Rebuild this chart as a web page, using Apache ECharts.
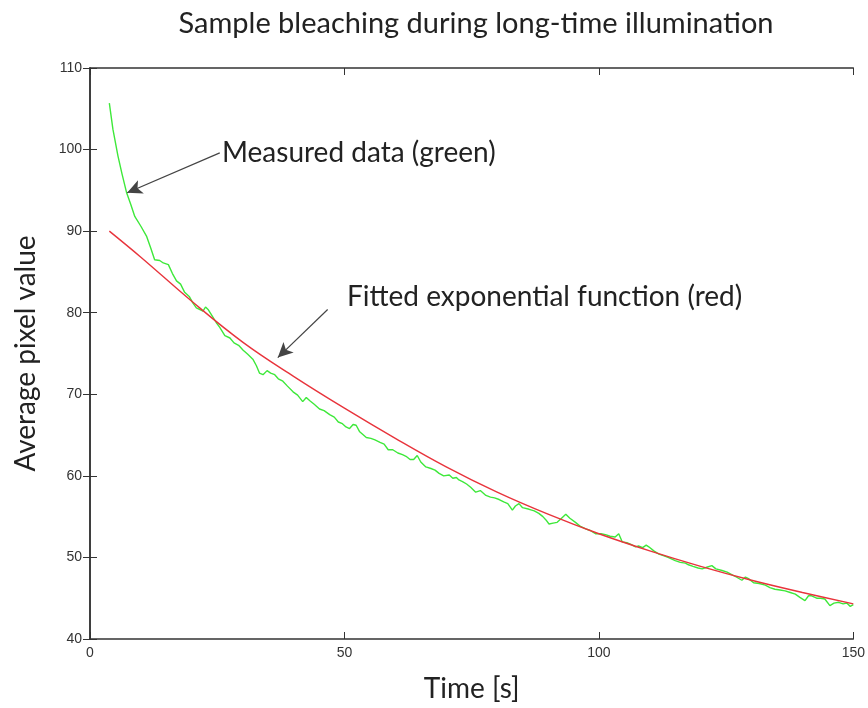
<!DOCTYPE html>
<html>
<head>
<meta charset="utf-8">
<script src="https://cdn.jsdelivr.net/npm/echarts@6/dist/echarts.min.js"></script>
<style>html,body{margin:0;padding:0;background:#fff;}#c{width:868px;height:708px;}</style>
</head>
<body>
<div id="c"></div>
<script>
const titleText = 'Sample bleaching during long-time illumination';
const xName = 'Time [s]';
const yName = 'Average pixel value';
const xTicks = [0, 50, 100, 150];
const yTicks = [40, 50, 60, 70, 80, 90, 100, 110];

const greenTime = [3.8,4.5,5.5,6.3,7.2,8.0,8.8,10.0,11.1,12.0,12.7,13.7,14.4,15.4,16.2,17.0,17.8,18.6,19.5,20.2,20.9,22.2,22.7,23.2,24.0,24.8,25.5,26.5,27.5,28.3,29.2,30.1,31.0,32.0,32.7,33.3,34.0,34.8,35.5,36.3,37.0,37.9,38.8,39.9,40.8,41.8,42.5,43.2,44.0,45.1,46.0,47.1,48.0,48.8,49.6,50.3,51.0,51.7,52.3,53.0,54.3,55.2,56.0,57.0,57.8,58.6,59.5,60.5,61.4,62.1,62.9,63.6,64.3,65.0,66.0,67.0,67.8,68.6,69.5,70.6,71.3,72.0,72.5,73.2,74.0,74.8,75.8,76.7,77.8,78.7,79.5,80.4,81.3,82.1,83.0,83.6,84.3,85.0,86.3,87.3,88.2,89.0,89.6,90.2,91.0,91.8,92.5,93.5,94.3,95.4,96.4,97.4,98.3,99.4,100.4,101.3,102.2,103.2,103.9,104.6,105.5,106.3,107.2,107.8,108.6,109.3,109.8,110.8,111.8,112.8,113.6,115.0,116.0,117.0,117.6,118.5,119.5,120.3,121.2,122.2,123.0,124.2,125.2,126.1,127.0,128.1,128.8,129.4,130.4,131.5,132.7,133.6,134.6,135.6,136.6,137.6,138.6,139.5,140.5,141.2,141.8,142.8,143.6,144.4,145.4,146.2,147.1,148.0,148.7,149.4,150.0];
const greenValue = [105.7,102.5,99.2,97.0,94.7,93.3,91.8,90.6,89.4,87.8,86.5,86.4,86.1,85.9,84.8,83.9,83.5,82.5,82.0,81.2,80.6,80.2,80.7,80.4,79.6,78.8,78.2,77.2,76.9,76.3,76.0,75.4,74.9,74.3,73.5,72.6,72.4,72.9,72.6,72.4,71.9,71.6,71.0,70.3,69.9,69.1,69.6,69.2,68.8,68.2,68.0,67.5,67.2,66.6,66.4,66.0,65.8,66.3,66.2,65.4,64.7,64.6,64.4,64.1,63.9,63.2,63.2,62.8,62.6,62.4,62.0,62.0,62.5,61.7,61.1,60.9,60.7,60.3,60.0,60.1,59.7,59.8,59.5,59.3,59.0,58.6,58.0,58.2,57.6,57.4,57.3,57.1,56.8,56.6,55.8,56.3,56.6,56.1,55.9,55.7,55.4,55.0,54.6,54.1,54.2,54.3,54.7,55.3,54.8,54.3,53.8,53.5,53.3,52.9,52.9,52.8,52.6,52.5,52.9,51.9,51.8,51.6,51.3,51.4,51.2,51.5,51.3,50.8,50.4,50.2,50.0,49.6,49.4,49.3,49.1,48.9,48.7,48.6,48.8,49.0,48.6,48.4,48.2,47.9,47.6,47.2,47.6,47.4,46.9,46.8,46.6,46.3,46.1,46.0,45.9,45.7,45.5,45.1,44.7,45.3,45.3,45.0,45.0,44.9,44.1,44.4,44.5,44.3,44.4,44.0,44.2];

const redTime = [3.8,10,20,30,40,50,60,70,80,90,100,110,120,130,140,150];
const redValue = [90.0,86.8,81.4,76.4,72.2,68.3,64.6,61.1,58.0,55.3,52.9,50.8,48.9,47.2,45.7,44.3];

const noteGreen = 'Measured data (green)';
const noteRed = 'Fitted exponential function (red)';
const arrowGreen = [[25.5, 99.6], [7.3, 94.7]];
const arrowRed = [[46.7, 80.4], [36.9, 74.5]];

const zip = (a, b) => a.map((v, i) => [v, b[i]]);
const font = 'Lato, "Noto Sans", sans-serif';
const tickFont = '"Liberation Sans", Arial, sans-serif';
const axisColor = '#333';

const chart = echarts.init(document.getElementById('c'), null, {renderer: 'canvas'});
chart.setOption({
  backgroundColor: '#fff',
  animation: false,
  title: {
    text: titleText, left: 471, top: 4, textAlign: 'center',
    textStyle: {fontFamily: font, fontWeight: 'normal', fontSize: 29, color: '#222'}
  },
  grid: {left: 90, right: 13, top: 68, bottom: 67},
  xAxis: [{
    type: 'value', min: 0, max: 150, interval: 50,
    name: xName, nameLocation: 'middle', nameGap: 36,
    nameTextStyle: {fontFamily: font, fontSize: 28, color: '#222'},
    axisLine: {show: true, lineStyle: {color: axisColor, width: 1.5}},
    axisTick: {show: true, inside: true, length: 7, lineStyle: {color: axisColor}},
    axisLabel: {fontFamily: tickFont, fontSize: 14, color: '#333', margin: 7},
    splitLine: {show: false}
  }, {
    type: 'value', min: 0, max: 150, interval: 50, position: 'top',
    axisLine: {show: true, lineStyle: {color: axisColor, width: 1.5}},
    axisTick: {show: true, inside: true, length: 7, lineStyle: {color: axisColor}},
    axisLabel: {show: false}, splitLine: {show: false}
  }],
  yAxis: [{
    type: 'value', min: 40, max: 110, interval: 10,
    name: yName, nameLocation: 'middle', nameGap: 50, nameRotate: 90,
    nameTextStyle: {fontFamily: font, fontSize: 28, color: '#222'},
    axisLine: {show: true, lineStyle: {color: axisColor, width: 1.5}},
    axisTick: {show: true, inside: true, length: 7, lineStyle: {color: axisColor}},
    axisLabel: {fontFamily: tickFont, fontSize: 14, color: '#333', margin: 8},
    splitLine: {show: false}
  }, {
    type: 'value', min: 40, max: 110, interval: 10, position: 'right',
    axisLine: {show: true, lineStyle: {color: axisColor, width: 1.5}},
    axisTick: {show: true, inside: true, length: 7, lineStyle: {color: axisColor}},
    axisLabel: {show: false}, splitLine: {show: false}
  }],
  series: [{
    type: 'line', name: 'Measured', data: zip(greenTime, greenValue),
    showSymbol: false, lineStyle: {color: '#3ee83a', width: 1.4},
    itemStyle: {color: '#3ee83a'}, z: 2
  }, {
    type: 'line', name: 'Fit', data: zip(redTime, redValue), smooth: 0.4,
    showSymbol: false, lineStyle: {color: '#e8343c', width: 1.4},
    itemStyle: {color: '#e8343c'}, z: 3,
    markLine: {
      silent: true, animation: false,
      symbol: ['none', 'arrow'], symbolSize: [11, 15],
      lineStyle: {color: '#444', width: 1.2, type: 'solid'},
      itemStyle: {color: '#111'},
      label: {show: false},
      data: [
        [{coord: arrowGreen[0]}, {coord: arrowGreen[1]}],
        [{coord: arrowRed[0]}, {coord: arrowRed[1]}]
      ]
    }
  }],
  graphic: [
    {type: 'text', left: 222, top: 139, style: {text: noteGreen, font: '28px ' + font, fill: '#222'}},
    {type: 'text', left: 347, top: 283, style: {text: noteRed, font: '28px ' + font, fill: '#222'}}
  ]
});
</script>
</body>
</html>
